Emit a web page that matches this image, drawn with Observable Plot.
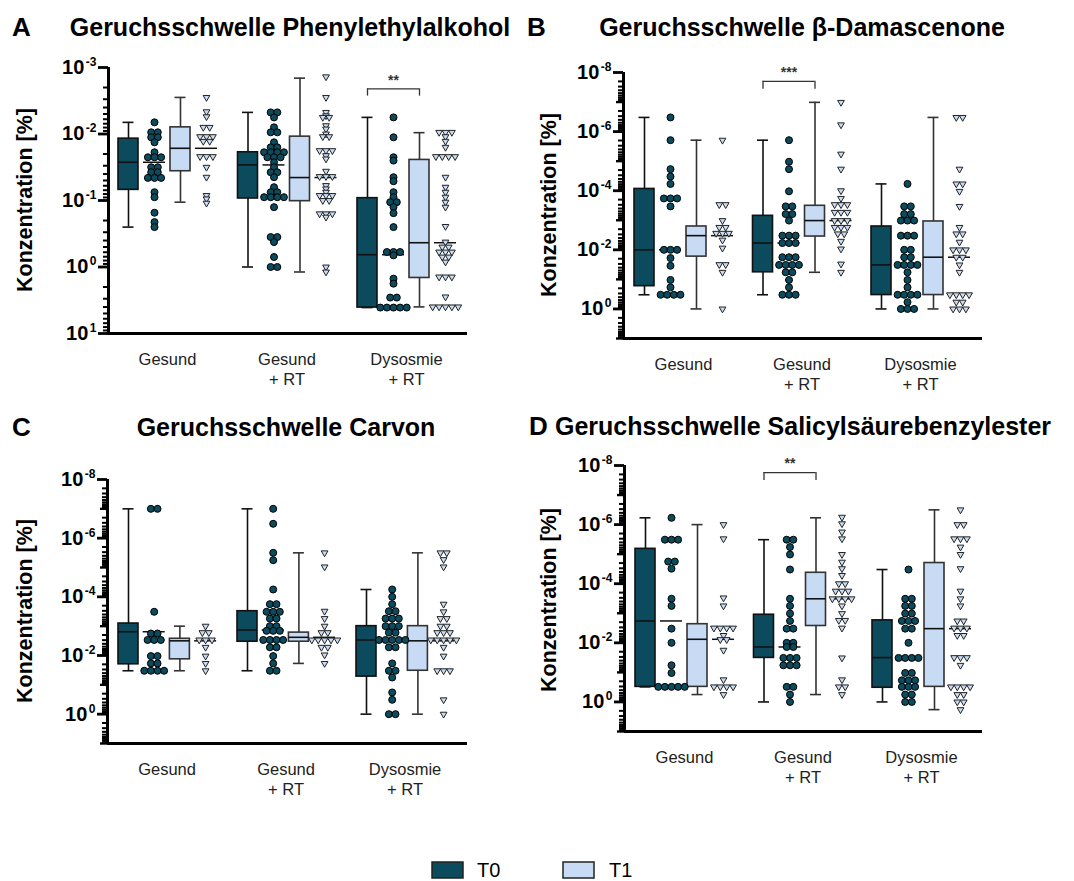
<!DOCTYPE html>
<html><head><meta charset="utf-8">
<script src="https://cdn.jsdelivr.net/npm/d3@7"></script>
<script src="https://cdn.jsdelivr.net/npm/@observablehq/plot@0.6"></script>
<style>
body{margin:0;background:#fff;}
#root{position:relative;width:1074px;height:881px;overflow:hidden;font-family:"Liberation Sans",Arial,sans-serif;}
#root svg.panel{position:absolute;}
#overlay{position:absolute;left:0;top:0;pointer-events:none;}
</style></head><body><div id="root"></div>
<script>
// ---------- data (values are log10 of Konzentration [%]) ----------
const groups = ["Gesund", "Gesund\n+ RT", "Dysosmie\n+ RT"];
const timepoints = ["T0", "T1"];
const titles = ["Geruchsschwelle Phenylethylalkohol", "Geruchsschwelle β-Damascenone", "Geruchsschwelle Carvon", "Geruchsschwelle Salicylsäurebenzylester"];
const letters = ["A", "B", "C", "D"];
const yLabel = "Konzentration [%]";

// box stats per group: [whisker min, q1, median, q3, whisker max]
const phenylBoxT0 = [[-2.175,-1.93,-1.575,-1.16,-0.6],[-2.325,-1.725,-1.535,-1.03,0],[-2.25,-1.035,-0.185,0.61,0.61]];
const phenylBoxT1 = [[-2.55,-2.1,-1.785,-1.44,-0.975],[-2.84,-1.96,-1.345,-0.99,0.075],[-2.02,-1.61,-0.365,0.165,0.6]];
const phenylDotsT0 = [
 [-2.175,-2.025,-2.025,-1.95,-1.95,-1.875,-1.725,-1.65,-1.65,-1.65,-1.5,-1.5,-1.425,-1.425,-1.34,-1.34,-1.34,-1.125,-1.05,-0.816,-0.675,-0.6],
 [-2.325,-2.325,-2.25,-2.1,-2.025,-2.025,-1.875,-1.8,-1.8,-1.725,-1.725,-1.725,-1.725,-1.65,-1.65,-1.65,-1.575,-1.5,-1.425,-1.425,-1.35,-1.2,-1.125,-1.125,-1.05,-1.05,-1.05,-1.05,-0.9,-0.45,-0.45,-0.375,-0.15,0,0],
 [-2.25,-1.95,-1.65,-1.6,-1.35,-1.29,-1.125,-1.05,-0.975,-0.975,-0.9,-0.81,-0.6,-0.225,-0.225,-0.225,-0.175,0.175,0.25,0.46,0.46,0.61,0.61,0.61,0.61,0.61]];
const phenylDotsT1 = [
 [-2.55,-2.335,-2.26,-2.1,-2.1,-1.96,-1.96,-1.96,-1.89,-1.89,-1.66,-1.66,-1.66,-1.5,-1.35,-1.075,-1.025,-0.96],
 [-2.86,-2.55,-2.325,-2.275,-2.25,-2.25,-2.125,-2.075,-2.0,-1.96,-1.96,-1.75,-1.75,-1.75,-1.675,-1.625,-1.44,-1.36,-1.36,-1.36,-1.225,-1.175,-1.125,-1.075,-1.075,-1.075,-1.0,-1.0,-0.8,-0.8,-0.8,-0.75,0,0.075],
 [-2.025,-2.025,-2.025,-1.96,-1.89,-1.8,-1.66,-1.66,-1.66,-1.66,-1.35,-1.2,-1.125,-1.05,-0.975,-0.9,-0.61,-0.375,-0.3,-0.3,-0.225,-0.225,-0.225,-0.15,-0.15,-0.075,0.15,0.15,0.15,0.45,0.6,0.6,0.6,0.6,0.6]];

const damascBoxT0 = [[-6.48,-4.06,-2.0,-0.77,-0.48],[-5.71,-3.15,-2.23,-1.24,-0.48],[-4.23,-2.79,-1.49,-0.47,0]];
const damascBoxT1 = [[-5.71,-2.79,-2.48,-1.77,0],[-6.99,-3.49,-2.99,-2.45,-1.24],[-6.48,-2.96,-1.75,-0.47,0]];
const damascDotsT0 = [
 [-6.48,-5.71,-4.73,-4.48,-4.23,-3.74,-3.74,-3.74,-3.47,-2.0,-2.0,-2.0,-1.72,-1.46,-0.98,-0.73,-0.48,-0.48,-0.48,-0.48],
 [-5.71,-4.98,-4.73,-3.98,-3.47,-3.47,-3.21,-3.21,-2.99,-2.48,-2.48,-2.48,-2.23,-2.23,-2.23,-1.75,-1.75,-1.75,-1.49,-1.49,-1.49,-1.49,-1.24,-1.24,-0.98,-0.73,-0.48,-0.48,-0.48],
 [-4.23,-3.47,-3.47,-3.21,-3.21,-2.99,-2.99,-2.99,-2.48,-2.48,-2.48,-2.0,-2.0,-1.75,-1.75,-1.49,-1.49,-1.49,-1.49,-1.24,-0.98,-0.73,-0.48,-0.48,-0.48,-0.48,-0.23,0,0,0]];
const damascDotsT1 = [
 [-5.71,-3.53,-3.53,-2.99,-2.76,-2.76,-2.56,-2.56,-2.56,-2.33,-2.06,-1.5,-1.5,-1.24,0],
 [-6.99,-6.23,-5.24,-4.73,-4.0,-3.74,-3.53,-3.53,-3.53,-3.27,-3.27,-3.27,-2.99,-2.99,-2.99,-2.76,-2.76,-2.76,-2.54,-2.54,-2.29,-2.03,-1.52,-1.24],
 [-6.48,-6.48,-4.73,-4.23,-4.23,-3.98,-3.47,-2.76,-2.54,-2.54,-2.26,-2.0,-2.0,-2.0,-1.75,-1.75,-1.49,-1.24,-0.48,-0.48,-0.48,-0.48,-0.23,-0.23,0,0,0]];

const carvonBoxT0 = [[-7.0,-3.09,-2.81,-1.7,-1.48],[-7.0,-3.51,-2.87,-2.47,-1.48],[-4.25,-3.0,-2.53,-1.28,0]];
const carvonBoxT1 = [[-3.0,-2.57,-2.5,-1.87,-1.48],[-5.5,-2.78,-2.62,-2.47,-1.73],[-5.5,-3.0,-2.5,-1.48,0]];
const carvonDotsT0 = [
 [-7.0,-7.0,-3.49,-2.75,-2.75,-2.53,-2.53,-2.53,-1.98,-1.98,-1.73,-1.73,-1.48,-1.48,-1.48,-1.48],
 [-7.0,-6.49,-5.5,-5.25,-4.25,-3.75,-3.75,-3.49,-3.49,-3.49,-3.26,-3.26,-3.0,-3.0,-2.84,-2.84,-2.84,-2.53,-2.53,-2.53,-2.53,-2.28,-2.28,-1.98,-1.73,-1.48,-1.48],
 [-4.25,-4.0,-3.75,-3.51,-3.51,-3.26,-3.26,-3.26,-3.0,-3.0,-3.0,-2.78,-2.78,-2.53,-2.53,-2.53,-2.53,-2.53,-2.28,-2.28,-1.73,-1.48,-1.48,-1.25,-0.74,-0.49,0,0]];
const carvonDotsT1 = [
 [-3.0,-2.78,-2.78,-2.53,-2.53,-2.53,-2.28,-1.98,-1.73,-1.48],
 [-5.5,-5.02,-3.51,-3.26,-3.0,-2.78,-2.78,-2.53,-2.53,-2.53,-2.53,-2.53,-2.28,-2.28,-2.02,-1.73],
 [-5.5,-5.5,-5.27,-5.02,-3.75,-3.49,-3.26,-3.26,-3.0,-3.0,-2.78,-2.78,-2.78,-2.53,-2.53,-2.53,-2.53,-2.53,-2.28,-1.98,-1.48,-1.48,-1.48,-0.49,0]];

const salicylBoxT0 = [[-6.23,-5.18,-2.74,-0.51,-0.51],[-5.49,-2.95,-1.86,-1.49,0],[-4.48,-2.76,-1.5,-0.48,0]];
const salicylBoxT1 = [[-6.0,-2.63,-2.12,-0.51,-0.25],[-6.23,-4.37,-3.49,-2.57,-0.25],[-6.5,-4.7,-2.48,-0.51,0.26]];
const salicylDotsT0 = [
 [-6.23,-5.49,-5.49,-5.49,-4.75,-4.75,-4.51,-3.49,-3.25,-2.48,-2.0,-1.24,-0.98,-0.51,-0.51,-0.51,-0.51,-0.51],
 [-5.49,-5.49,-5.24,-4.99,-4.48,-3.49,-3.25,-2.99,-2.74,-2.48,-2.48,-2.0,-2.0,-1.86,-1.86,-1.49,-1.49,-1.49,-1.24,-1.24,-1.24,-0.51,-0.51,-0.25,0],
 [-4.48,-3.49,-3.49,-3.25,-3.25,-2.99,-2.99,-2.74,-2.74,-2.74,-2.48,-2.48,-2.0,-1.49,-1.49,-1.49,-1.49,-0.98,-0.98,-0.73,-0.73,-0.73,-0.51,-0.51,-0.51,-0.25,-0.25,0,0]];
const salicylDotsT1 = [
 [-6.0,-5.52,-3.52,-3.25,-2.5,-2.5,-2.5,-2.5,-2.25,-2.11,-2.11,-1.75,-0.75,-0.51,-0.51,-0.51,-0.51,-0.25],
 [-6.25,-6.03,-5.75,-5.52,-4.99,-4.73,-4.51,-4.28,-4.0,-4.0,-3.75,-3.75,-3.75,-3.49,-3.49,-3.49,-3.49,-3.25,-2.99,-2.76,-2.76,-2.5,-1.49,-0.75,-0.51,-0.51,-0.25],
 [-6.5,-6.0,-6.0,-5.52,-5.52,-5.52,-5.24,-4.99,-4.51,-3.75,-3.49,-3.25,-2.74,-2.74,-2.5,-2.5,-2.5,-2.25,-2.25,-1.5,-1.5,-1.5,-1.24,-0.51,-0.51,-0.51,-0.51,-0.25,-0.25,0,0,0.26]];

// significance annotations: group index and label
const phenylSig = [{group: 2, label: "**"}];
const damascSig = [{group: 1, label: "***"}];
const carvonSig = [];
const salicylSig = [{group: 1, label: "**"}];

// ---------- rendering ----------
const FONT = "'Liberation Sans', Arial, Helvetica, sans-serif";
const COL = {T0: "#0b4b5d", T1: "#c7dbf4"};
const root = document.getElementById("root");

function panel(spec, lay) {
  const G = lay.G, S = lay.S;
  const xpos = (g, col) => g + col * S / G;
  const x0 = (lay.left - lay.first) / G, x1 = (lay.right - lay.first) / G;
  const boxes = [];
  [spec.boxT0, spec.boxT1].forEach((arr, t) => arr.forEach((s, g) => {
    boxes.push({t, g, x: xpos(g, 2 * t), xd: xpos(g, 2 * t + 1),
      lo: 10 ** s[0], q1: 10 ** s[1], med: 10 ** s[2], q3: 10 ** s[3], hi: 10 ** s[4]});
  }));
  const dots = [];
  [spec.dotsT0, spec.dotsT1].forEach((arr, t) => arr.forEach((vals, g) => {
    const counts = d3.rollup(vals, v => v.length, v => v);
    const seen = new Map();
    const step = (t ? 6.4 : 6.6) / G;
    for (const v of vals) {
      const n = counts.get(v), i = seen.get(v) || 0;
      seen.set(v, i + 1);
      dots.push({t, g, x: xpos(g, 2 * t + 1) + (i - (n - 1) / 2) * step, y: 10 ** v});
    }
  }));
  const minor = [];
  for (let k = spec.minExp; k < 1; k++) for (let m = 2; m <= 9; m++) minor.push(m * 10 ** k);
  const exps = d3.range(spec.minExp, 2);
  const labeled = exps.filter(k => spec.labelExps.includes(k)).map(k => 10 ** k);
  const unlabeled = exps.filter(k => !spec.labelExps.includes(k)).map(k => 10 ** k);
  const bw = 10 / G, cap = 5.5 / G, mw = 11 / G;
  const sigMarks = [];
  for (const s of spec.sig) {
    const a = xpos(s.group, 0), b = xpos(s.group, 2);
    sigMarks.push(
      Plot.ruleY([0], {y: () => 10 ** lay.brk, x1: () => a, x2: () => b, stroke: "#333", strokeWidth: 1.3}),
      Plot.ruleX([a, b], {x: d => d, y1: () => 10 ** lay.brk, y2: () => 10 ** lay.tip, stroke: "#333", strokeWidth: 1.3}),
      Plot.text([s.label], {x: () => xpos(s.group, 1), y: () => 10 ** lay.star, text: d => d, fontSize: 14, fill: "#333", fontWeight: "bold"})
    );
  }
  const svg = Plot.plot({
    width: lay.W, height: lay.H,
    marginLeft: lay.left, marginRight: lay.W - lay.right,
    marginTop: lay.top, marginBottom: lay.H - lay.bottom,
    x: {domain: [x0, x1]},
    y: {type: "log", domain: [10, 10 ** spec.minExp]},
    style: {fontFamily: FONT, overflow: "visible", background: "transparent", color: "#000"},
    marks: [
      Plot.axisY({ticks: minor, tickSize: 5, strokeWidth: 2, tickFormat: () => "", label: null}),
      Plot.axisY({ticks: unlabeled, tickSize: 7, strokeWidth: 2.4, tickFormat: () => "", label: null}),
      Plot.axisY({ticks: labeled, tickSize: 10, strokeWidth: 2.8, tickPadding: 2, tickFormat: d => "E" + Math.round(Math.log10(d)), fontSize: 20, fontWeight: "bold", fill: "#000", label: null}),
      Plot.axisX({ticks: [0, 1, 2].map(g => g + 1.5 * S / G), tickSize: 0, tickPadding: 17, tickFormat: d => groups[Math.round(d - 1.5 * S / G)], fontSize: 16.5, lineHeight: 1.22, fill: "#222", label: null}),
      Plot.ruleX(boxes, {x: "x", y1: "lo", y2: "hi", stroke: d => d.t ? "#333" : "#111", strokeWidth: 1.6}),
      Plot.ruleY(boxes, {y: "lo", x1: d => d.x - cap, x2: d => d.x + cap, stroke: d => d.t ? "#333" : "#111", strokeWidth: 1.6}),
      Plot.ruleY(boxes, {y: "hi", x1: d => d.x - cap, x2: d => d.x + cap, stroke: d => d.t ? "#333" : "#111", strokeWidth: 1.6}),
      Plot.rect(boxes, {x1: d => d.x - bw, x2: d => d.x + bw, y1: "q1", y2: "q3", fill: d => COL[timepoints[d.t]], stroke: d => d.t ? "#333" : "#111", strokeWidth: 1.6}),
      Plot.ruleY(boxes, {y: "med", x1: d => d.x - bw, x2: d => d.x + bw, stroke: "#111", strokeWidth: 1.6}),
      Plot.ruleY(boxes, {y: "med", x1: d => d.xd - mw, x2: d => d.xd + mw, stroke: "#111", strokeWidth: 1.5}),
      Plot.dot(dots.filter(d => d.t === 0), {x: "x", y: "y", r: 3.5, fill: COL.T0, stroke: "#000", strokeWidth: 1}),
      Plot.dot(dots.filter(d => d.t === 1), {x: "x", y: "y", r: 2.5, symbol: "triangle", rotate: 180, fill: COL.T1, stroke: "#222", strokeWidth: 1}),
      ...sigMarks,
      Plot.ruleX([x0], {strokeWidth: 3, stroke: "#000"}),
      Plot.ruleY([10], {strokeWidth: 3, stroke: "#000"})
    ]
  });
  svg.querySelectorAll("text").forEach(t => {
    const m = /^E(-?\d+)$/.exec(t.textContent);
    if (m) t.innerHTML = `10<tspan dy="-8" font-size="12" dx="1.5">${m[1]}</tspan>`;
  });
  svg.classList.add("panel");
  svg.style.left = lay.px + "px";
  svg.style.top = lay.py + "px";
  root.appendChild(svg);
}

const specs = [
  {boxT0: phenylBoxT0, boxT1: phenylBoxT1, dotsT0: phenylDotsT0, dotsT1: phenylDotsT1, sig: phenylSig, minExp: -3, labelExps: [-3, -2, -1, 0, 1]},
  {boxT0: damascBoxT0, boxT1: damascBoxT1, dotsT0: damascDotsT0, dotsT1: damascDotsT1, sig: damascSig, minExp: -8, labelExps: [-8, -6, -4, -2, 0]},
  {boxT0: carvonBoxT0, boxT1: carvonBoxT1, dotsT0: carvonDotsT0, dotsT1: carvonDotsT1, sig: carvonSig, minExp: -8, labelExps: [-8, -6, -4, -2, 0]},
  {boxT0: salicylBoxT0, boxT1: salicylBoxT1, dotsT0: salicylDotsT0, dotsT1: salicylDotsT1, sig: salicylSig, minExp: -8, labelExps: [-8, -6, -4, -2, 0]}
];
const layouts = [
  {px: 0, py: 0, W: 537, H: 400, left: 108, right: 467, top: 67, bottom: 333, first: 128, G: 119.5, S: 26, brk: -2.68, tip: -2.57, star: -2.8},
  {px: 537, py: 0, W: 537, H: 400, left: 86, right: 445, top: 72, bottom: 338, first: 107, G: 118.5, S: 26, brk: -7.7, tip: -7.43, star: -8.0},
  {px: 0, py: 400, W: 537, H: 400, left: 107, right: 467, top: 79, bottom: 343, first: 128, G: 119, S: 25.7, brk: -7.7, tip: -7.43, star: -8.0},
  {px: 537, py: 400, W: 537, H: 400, left: 87, right: 445, top: 65, bottom: 331, first: 108, G: 118.5, S: 26, brk: -7.76, tip: -7.49, star: -8.07}
];
specs.forEach((s, i) => panel(s, layouts[i]));

// overlay: panel letters, titles, y labels, legend
const ns = "http://www.w3.org/2000/svg";
const ov = document.createElementNS(ns, "svg");
ov.setAttribute("id", "overlay");
ov.setAttribute("width", 1074); ov.setAttribute("height", 881);
ov.style.fontFamily = FONT;
root.appendChild(ov);
function txt(str, x, y, attrs) {
  const t = document.createElementNS(ns, "text");
  t.textContent = str;
  t.setAttribute("x", x); t.setAttribute("y", y);
  for (const k in attrs) t.setAttribute(k, attrs[k]);
  ov.appendChild(t); return t;
}
const headPos = [
  {lx: 12, ly: 36, tx: 290, ty: 36, yx: 32, yy: 200},
  {lx: 527, ly: 36, tx: 802, ty: 36, yx: 556, yy: 205},
  {lx: 12, ly: 436, tx: 286, ty: 436, yx: 32, yy: 611},
  {lx: 529, ly: 435, tx: 803, ty: 435, yx: 556, yy: 600}
];
headPos.forEach((h, i) => {
  txt(letters[i], h.lx, h.ly, {"font-size": 26, "font-weight": "bold"});
  txt(titles[i], h.tx, h.ty, {"font-size": 25, "font-weight": "bold", "text-anchor": "middle"});
  txt(yLabel, h.yx, h.yy, {"font-size": 21.5, "font-weight": "bold", "text-anchor": "middle", transform: `rotate(-90 ${h.yx} ${h.yy})`});
});
const legPos = [{rx: 432, tx: 477}, {rx: 563, tx: 609}];
timepoints.forEach((tp, i) => {
  const r = document.createElementNS(ns, "rect");
  r.setAttribute("x", legPos[i].rx); r.setAttribute("y", 862);
  r.setAttribute("width", 31); r.setAttribute("height", 16);
  r.setAttribute("fill", COL[tp]); r.setAttribute("stroke", "#222"); r.setAttribute("stroke-width", 1.5);
  ov.appendChild(r);
  txt(tp, legPos[i].tx, 877, {"font-size": 20});
});
</script></body></html>
